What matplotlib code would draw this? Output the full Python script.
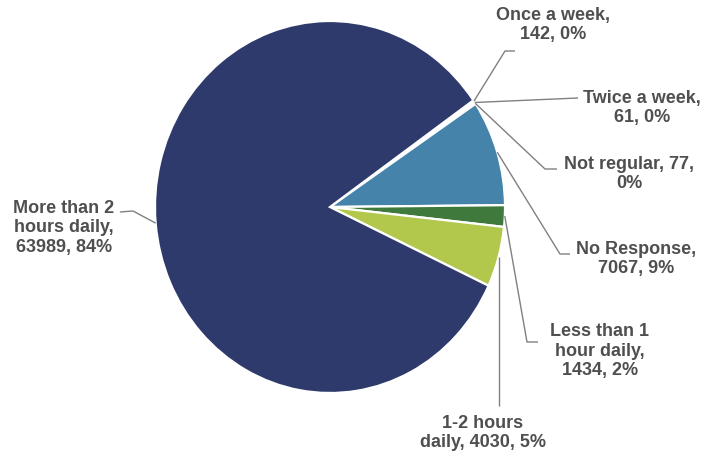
import matplotlib
matplotlib.use("Agg")
import matplotlib.pyplot as plt
import numpy as np

# Survey responses: how often / how long respondents use the service
categories = ["Once a week", "Twice a week", "Not regular", "No Response",
              "Less than 1\nhour daily", "1-2 hours\ndaily", "More than 2\nhours daily"]
counts = [142, 61, 77, 7067, 1434, 4030, 63989]
percents = [0, 0, 0, 9, 2, 5, 84]
label_texts = ["Once a week,\n142, 0%", "Twice a week,\n61, 0%", "Not regular, 77,\n0%",
               "No Response,\n7067, 9%", "Less than 1\nhour daily,\n1434, 2%",
               "1-2 hours\ndaily, 4030, 5%", "More than 2\nhours daily,\n63989, 84%"]
colors = ["#7a9cc6", "#c9d7e6", "#5b8fbf", "#4583ab", "#3f7a3c", "#b2c84c", "#2f3a6c"]

W, H = 705, 456
CX, CY = 330, 208      # pie centre in pixels
RX, RY = 175, 186      # pie radii in pixels (slightly tall ellipse)


def to_data(px, py):
    return (px - CX) / RX, (CY - py) / RY


# label block centre, and leader path points after the wedge anchor (pixels)
label_pos = [(553, 25), (642, 108), (629, 174), (636, 259), (600, 351), (483, 433), (64, 228)]
leader_paths = [
    [(505, 52), (515, 52)],
    [(578, 99)],
    [(545, 170), (557, 170)],
    [(560, 255), (570, 255)],
    [(527, 343), (538, 343)],
    [None],
    [(133, 212), (120, 213)],
]

fig = plt.figure(figsize=(W / 100, H / 100), dpi=100)
ax = fig.add_axes([0, 0, 1, 1])

wedges, _ = ax.pie(counts, colors=colors, startangle=35, counterclock=False,
                   radius=1.0, center=(0, 0),
                   wedgeprops=dict(edgecolor="white", linewidth=1.6))

ax.set_aspect("auto")
ax.set_xlim(-CX / RX, (W - CX) / RX)
ax.set_ylim((CY - H) / RY, CY / RY)
ax.axis("off")

for w, txt, pos, path in zip(wedges, label_texts, label_pos, leader_paths):
    mid = np.deg2rad((w.theta1 + w.theta2) / 2)
    ax_, ay_ = np.cos(mid), np.sin(mid)
    xs, ys = [ax_], [ay_]
    for p in path:
        if p is None:
            # straight vertical drop to the label
            px_anchor = CX + ax_ * RX
            p = (px_anchor, 407)
        dx, dy = to_data(*p)
        xs.append(dx)
        ys.append(dy)
    ax.plot(xs, ys, color="#808080", lw=1.0, solid_capstyle="butt")
    tx, ty = to_data(*pos)
    ax.text(tx, ty, txt, ha="center", va="center", fontsize=13,
            fontweight="bold", family="Liberation Sans", color="#4f4f4f",
            linespacing=1.22)

fig.savefig("out.png", dpi=100, facecolor="white")
